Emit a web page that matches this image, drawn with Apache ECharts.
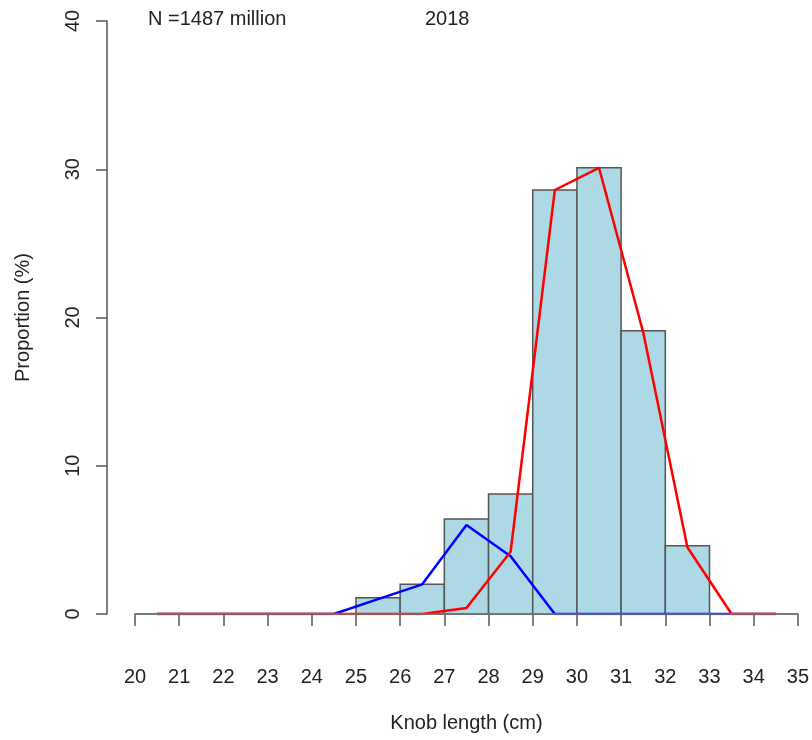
<!DOCTYPE html>
<html>
<head>
<meta charset="utf-8">
<script src="https://cdn.jsdelivr.net/npm/echarts@6/dist/echarts.min.js"></script>
<style>
  html, body { margin: 0; padding: 0; background: #fff; }
  #chart { width: 812px; height: 740px; }
</style>
</head>
<body>
<div id="chart"></div>
<script>
// Histogram bins (cm) and proportions (%)
const binStarts = [25, 26, 27, 28, 29, 30, 31, 32];
const binWidth = 1;
const barValues = [1.1, 2.0, 6.4, 8.1, 28.6, 30.1, 19.1, 4.6];

// Line series at bin midpoints
const midPoints = [20.5, 21.5, 22.5, 23.5, 24.5, 25.5, 26.5, 27.5, 28.5, 29.5, 30.5, 31.5, 32.5, 33.5, 34.5];
const blueValues = [0, 0, 0, 0, 0, 1.0, 2.0, 6.0, 3.9, 0, 0, 0, 0, 0, 0];
const redValues  = [0, 0, 0, 0, 0, 0, 0, 0.4, 4.2, 28.6, 30.1, 19.0, 4.5, 0, 0];

const totalLabel = 'N =1487 million';
const yearLabel = '2018';
const xTitle = 'Knob length (cm)';
const yTitle = 'Proportion (%)';

const FONT = '"Liberation Sans", Arial, sans-serif';
const TXT = '#222';
const AX = '#555';

const chart = echarts.init(document.getElementById('chart'), null, { renderer: 'canvas' });

const barData = binStarts.map((s, i) => [s, s + binWidth, barValues[i]]);
const blueData = midPoints.map((m, i) => [m, blueValues[i]]);
const redData = midPoints.map((m, i) => [m, redValues[i]]);

chart.setOption({
  animation: false,
  backgroundColor: '#fff',
  textStyle: { fontFamily: FONT },
  title: [
    { text: totalLabel, left: 148, top: 9, padding: 0,
      textStyle: { fontSize: 20, fontWeight: 'normal', color: TXT, fontFamily: FONT } },
    { text: yearLabel, left: 425, top: 9, padding: 0,
      textStyle: { fontSize: 20, fontWeight: 'normal', color: TXT, fontFamily: FONT } }
  ],
  grid: { left: 135, right: 14, top: 21, bottom: 126, containLabel: false },
  xAxis: {
    type: 'value', min: 20, max: 35, interval: 1,
    offset: 23,
    name: xTitle, nameLocation: 'middle', nameGap: 76,
    nameTextStyle: { fontSize: 20, color: TXT, fontFamily: FONT },
    axisLine: { show: true, lineStyle: { color: AX, width: 1.5 } },
    axisTick: { show: true, length: 12, lineStyle: { color: AX, width: 1.5 } },
    axisLabel: { fontSize: 20, color: TXT, margin: 30, fontFamily: FONT },
    splitLine: { show: false }
  },
  yAxis: {
    type: 'value', min: 0, max: 40, interval: 10,
    offset: 28,
    name: yTitle, nameLocation: 'middle', nameGap: 74, nameRotate: 90,
    nameTextStyle: { fontSize: 20, color: TXT, fontFamily: FONT },
    axisLine: { show: true, lineStyle: { color: AX, width: 1.5 } },
    axisTick: { show: true, length: 11, lineStyle: { color: AX, width: 1.5 } },
    axisLabel: { fontSize: 20, color: TXT, margin: 24, rotate: 90, fontFamily: FONT },
    splitLine: { show: false }
  },
  series: [
    {
      type: 'custom',
      data: barData,
      encode: { x: [0, 1], y: 2 },
      renderItem: function (params, api) {
        const p0 = api.coord([api.value(0), api.value(2)]);
        const p1 = api.coord([api.value(1), 0]);
        return {
          type: 'rect',
          shape: { x: p0[0], y: p0[1], width: p1[0] - p0[0], height: p1[1] - p0[1] },
          style: { fill: '#ADD8E6', stroke: '#555', lineWidth: 1.5 }
        };
      },
      markLine: {
        silent: true, symbol: 'none', label: { show: false },
        lineStyle: { color: '#777', width: 1.5, type: 'solid' },
        data: [{ yAxis: 0 }]
      },
      z: 1
    },
    {
      type: 'line', data: blueData, symbol: 'none',
      lineStyle: { color: '#0000ff', width: 2.5 }, z: 3
    },
    {
      type: 'line', data: redData, symbol: 'none',
      lineStyle: { color: '#ff0000', width: 2.5 }, z: 4
    }
  ]
});
</script>
</body>
</html>
